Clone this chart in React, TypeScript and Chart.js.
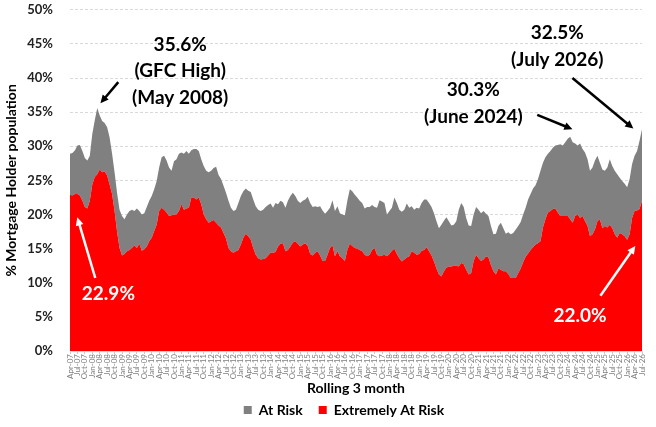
import { useEffect, useRef } from "react"
import { Chart, registerables } from "chart.js"

Chart.register(...registerables)

const FONT = "Lato, 'Open Sans', sans-serif"
const MONTH_NAMES = ["Jan", "Feb", "Mar", "Apr", "May", "Jun", "Jul", "Aug", "Sep", "Oct", "Nov", "Dec"]
const START_YEAR = 2007
const START_MONTH = 3 // April

// top of the grey area (At Risk + Extremely At Risk), % of mortgage holders, monthly from Apr-07
const totalAtRisk = [
  28.9, 29.0, 29.4, 30.1, 30.2, 29.3, 28.3, 27.9, 28.6, 31.8, 33.8, 35.6,
  34.5, 33.7, 33.4, 32.8, 31.3, 28.9, 26.2, 23.2, 20.7, 19.8, 19.3, 20.0,
  20.5, 20.7, 20.5, 20.9, 20.5, 20.0, 20.2, 21.1, 22.0, 22.7, 23.7, 24.9,
  26.9, 28.4, 28.6, 27.9, 26.9, 26.4, 27.8, 28.1, 28.9, 29.1, 28.9, 29.3,
  28.9, 29.4, 29.6, 29.6, 29.3, 28.1, 27.1, 26.4, 26.2, 26.4, 26.8, 27.0,
  25.8, 25.2, 24.2, 23.2, 22.0, 21.0, 20.5, 20.7, 21.7, 22.7, 23.4, 23.8,
  23.5, 23.3, 22.2, 21.2, 20.7, 20.5, 20.7, 21.1, 21.4, 21.6, 21.0, 21.7,
  21.5, 22.0, 21.8, 21.0, 22.0, 22.7, 23.2, 22.7, 22.0, 21.7, 22.0, 22.2,
  22.6, 21.7, 21.1, 21.2, 21.1, 21.2, 20.6, 20.1, 20.5, 21.0, 22.1, 20.5,
  21.2, 20.2, 20.0, 19.9, 22.0, 23.7, 23.4, 22.9, 22.5, 22.0, 21.7, 20.9,
  21.1, 21.1, 21.4, 21.1, 21.0, 22.1, 21.9, 21.7, 20.0, 20.5, 21.0, 22.5,
  21.7, 20.7, 20.4, 20.7, 21.6, 21.0, 21.2, 20.7, 21.0, 20.9, 21.7, 22.2,
  22.2, 21.7, 21.1, 20.2, 19.0, 18.0, 18.5, 19.1, 19.6, 19.0, 18.4, 18.5,
  19.0, 20.7, 21.7, 21.1, 19.5, 18.4, 18.3, 20.0, 21.1, 20.7, 20.2, 20.5,
  20.1, 19.8, 18.3, 17.1, 17.2, 18.3, 18.8, 18.0, 17.2, 17.4, 17.1, 17.3,
  17.8, 18.3, 18.9, 20.0, 21.0, 22.2, 23.0, 23.8, 24.3, 25.2, 26.4, 27.6,
  28.4, 28.9, 29.3, 29.8, 30.1, 30.2, 30.3, 30.1, 30.6, 31.1, 31.4, 30.6,
  30.4, 30.1, 30.4, 29.6, 29.1, 28.1, 26.4, 26.9, 27.9, 28.6, 27.6, 26.6,
  26.4, 26.9, 28.1, 27.1, 26.4, 25.9, 25.4, 24.9, 24.5, 24.0, 25.2, 27.4,
  28.6, 29.3, 30.8, 32.5,
]

const extremelyAtRisk = [
  22.9, 22.8, 23.0, 23.0, 22.8, 22.0, 21.1, 20.9, 22.0, 24.4, 25.5, 25.9,
  26.6, 26.2, 26.3, 25.7, 24.4, 23.0, 20.5, 17.5, 15.1, 14.0, 14.2, 14.6,
  14.8, 15.1, 15.5, 15.1, 15.7, 14.7, 14.9, 15.3, 16.1, 16.6, 17.6, 18.5,
  20.5, 21.0, 20.7, 20.3, 19.8, 19.9, 20.0, 20.0, 20.5, 21.5, 20.7, 20.9,
  21.0, 22.5, 22.5, 22.2, 22.5, 21.5, 20.0, 19.3, 18.8, 19.0, 19.2, 18.8,
  18.4, 18.1, 17.3, 16.5, 15.1, 14.6, 14.4, 14.6, 14.8, 15.6, 16.6, 17.2,
  16.8, 16.3, 15.1, 14.1, 13.6, 13.4, 13.5, 13.6, 14.0, 14.4, 14.4, 14.5,
  15.3, 15.7, 15.8, 14.6, 14.8, 15.3, 15.9, 16.1, 15.7, 15.3, 15.6, 15.8,
  15.4, 14.2, 14.0, 14.4, 14.6, 14.0, 13.2, 13.2, 14.1, 15.1, 15.5, 13.9,
  14.6, 13.9, 13.6, 13.2, 14.8, 15.7, 15.4, 15.1, 15.0, 14.8, 14.6, 14.1,
  13.9, 14.1, 14.8, 15.1, 14.1, 13.9, 14.0, 14.1, 13.9, 14.2, 14.7, 15.0,
  14.2, 13.6, 13.1, 13.4, 13.7, 13.9, 14.6, 14.4, 14.1, 14.2, 14.7, 14.8,
  15.2, 14.6, 14.0, 13.1, 12.1, 11.2, 10.9, 11.7, 12.2, 12.4, 12.4, 12.5,
  12.5, 12.4, 12.9, 12.7, 11.9, 11.2, 11.4, 13.2, 14.1, 13.6, 13.2, 13.4,
  13.9, 13.7, 12.6, 11.7, 11.2, 12.1, 11.9, 11.7, 11.7, 11.3, 10.7, 10.7,
  10.7, 11.4, 12.1, 13.0, 13.8, 14.3, 14.8, 15.2, 15.6, 15.8, 16.1, 18.1,
  19.3, 20.3, 20.5, 20.8, 20.9, 20.3, 19.8, 19.8, 19.8, 19.8, 19.3, 18.8,
  19.8, 20.0, 19.5, 19.8, 19.0, 18.3, 16.8, 17.1, 17.8, 19.0, 19.3, 18.0,
  18.3, 18.1, 18.5, 18.0, 17.1, 16.6, 17.3, 17.1, 16.8, 16.3, 17.1, 19.5,
  20.5, 20.6, 20.8, 22.0,
]

// grey band = total minus the red band (stacked)
const atRisk = totalAtRisk.map((t, i) => Math.round((t - extremelyAtRisk[i]) * 10) / 10)

const months = totalAtRisk.map((_, i) => {
  const m = START_MONTH + i
  const yr = START_YEAR + Math.floor(m / 12)
  return MONTH_NAMES[m % 12] + "-" + String(yr % 100).padStart(2, "0")
})

// callouts in data units: x = month index, y = %
const callouts = [
  { lines: ["35.6%", "(GFC High)", "(May 2008)"], x: 44.5, y: 44.9, color: "#000" },
  { lines: ["22.9%"], x: 15.5, y: 8.4, color: "#fff" },
  { lines: ["32.5%", "(July 2026)"], x: 196.8, y: 46.6, color: "#000" },
  { lines: ["30.3%", "(June 2024)"], x: 162.9, y: 38.2, color: "#000" },
  { lines: ["22.0%"], x: 206, y: 5.15, color: "#fff" },
]

const arrows = [
  { from: [19.5, 39.4], to: [12.3, 36.3], color: "#000" },
  { from: [10.2, 10.7], to: [2.95, 19.6], color: "#fff" },
  { from: [202.9, 40], to: [227.5, 32.6], color: "#000" },
  { from: [188.7, 34.6], to: [202.9, 32.5], color: "#000" },
  { from: [214.2, 8.1], to: [228.3, 15.4], color: "#fff" },
]

const calloutPlugin = {
  id: "callouts",
  afterDatasetsDraw(chart) {
    const { ctx } = chart
    const xs = chart.scales.x
    const ys = chart.scales.y
    ctx.save()
    ctx.font = "bold 19px " + FONT
    ctx.textAlign = "center"
    ctx.textBaseline = "middle"
    callouts.forEach((c) => {
      const px = xs.getPixelForValue(c.x)
      const py = ys.getPixelForValue(c.y)
      ctx.fillStyle = c.color
      c.lines.forEach((line, k) => ctx.fillText(line, px, py + k * 26.5))
    })
    arrows.forEach((a) => {
      const x1 = xs.getPixelForValue(a.from[0])
      const y1 = ys.getPixelForValue(a.from[1])
      const x2 = xs.getPixelForValue(a.to[0])
      const y2 = ys.getPixelForValue(a.to[1])
      const ang = Math.atan2(y2 - y1, x2 - x1)
      const head = 9
      ctx.strokeStyle = a.color
      ctx.fillStyle = a.color
      ctx.lineWidth = 2.5
      ctx.beginPath()
      ctx.moveTo(x1, y1)
      ctx.lineTo(x2 - Math.cos(ang) * head * 0.8, y2 - Math.sin(ang) * head * 0.8)
      ctx.stroke()
      ctx.beginPath()
      ctx.moveTo(x2, y2)
      ctx.lineTo(x2 - head * Math.cos(ang - 0.45), y2 - head * Math.sin(ang - 0.45))
      ctx.lineTo(x2 - head * Math.cos(ang + 0.45), y2 - head * Math.sin(ang + 0.45))
      ctx.closePath()
      ctx.fill()
    })
    ctx.restore()
  },
}

// nudge the legend to sit where the original one is
const legendShift = {
  id: "legendShift",
  afterLayout(chart) {
    if (chart.legend) {
      chart.legend.left += 23
      chart.legend.right += 23
    }
  },
}

export default function App() {
  const chartRef = useRef(null)
  const chartInstance = useRef(null)

  useEffect(() => {
    document.body.style.margin = "0"
    if (chartRef.current) {
      if (chartInstance.current) {
        chartInstance.current.destroy()
      }
      const ctx = chartRef.current.getContext("2d")
      chartInstance.current = new Chart(ctx, {
        type: "line",
        data: {
          labels: months,
          datasets: [
            {
              label: "Extremely At Risk",
              data: extremelyAtRisk,
              backgroundColor: "#FF0000",
              borderColor: "#FF0000",
              borderWidth: 0,
              pointRadius: 0,
              fill: "origin",
            },
            {
              label: "At Risk",
              data: atRisk,
              backgroundColor: "#808080",
              borderColor: "#808080",
              borderWidth: 0,
              pointRadius: 0,
              fill: "-1",
            },
          ],
        },
        options: {
          animation: false,
          responsive: true,
          maintainAspectRatio: false,
          layout: { padding: { top: 0, right: 14, bottom: 0, left: 0 } },
          plugins: {
            legend: {
              position: "bottom",
              reverse: true,
              labels: {
                boxWidth: 8,
                boxHeight: 8,
                padding: 16,
                color: "#000",
                font: { family: FONT, size: 14, weight: "bold" },
              },
            },
            tooltip: { enabled: false },
          },
          scales: {
            x: {
              stacked: true,
              grid: { drawOnChartArea: false, drawTicks: true, tickLength: 3, color: "#c8c8c8" },
              border: { display: true, color: "#d9d9d9" },
              ticks: {
                autoSkip: false,
                minRotation: 90,
                maxRotation: 90,
                padding: 0,
                color: "#808080",
                font: { family: FONT, size: 8 },
                callback: (_v, i) => (i % 3 === 0 ? months[i] : null),
              },
              title: {
                display: true,
                text: "Rolling 3 month",
                color: "#000",
                font: { family: FONT, size: 14, weight: "bold" },
                padding: { top: 0, bottom: -10 },
              },
              afterFit: (scale) => {
                scale.height = 36
              },
            },
            y: {
              stacked: true,
              min: 0,
              max: 50,
              ticks: {
                stepSize: 5,
                padding: 2,
                color: "#222",
                font: { family: FONT, size: 13, weight: "bold" },
                callback: (v) => v + "%",
              },
              // invisible tick marks keep the labels clear of the plot
              grid: { color: "#d9d9d9", drawTicks: true, tickLength: 15, tickColor: "rgba(0,0,0,0)" },
              border: { display: false, dash: [3, 2] },
              title: {
                display: true,
                text: "% Mortgage Holder population",
                color: "#000",
                font: { family: FONT, size: 14, weight: "bold" },
                padding: { top: 3, bottom: 0 },
              },
              afterFit: (scale) => {
                scale.width = 70
              },
            },
          },
        },
        plugins: [calloutPlugin, legendShift],
      })
    }

    return () => {
      if (chartInstance.current) {
        chartInstance.current.destroy()
        chartInstance.current = null
      }
    }
  }, [])

  return (
    <div style={{ width: 656, height: 427 }}>
      <canvas ref={chartRef} />
    </div>
  )
}
